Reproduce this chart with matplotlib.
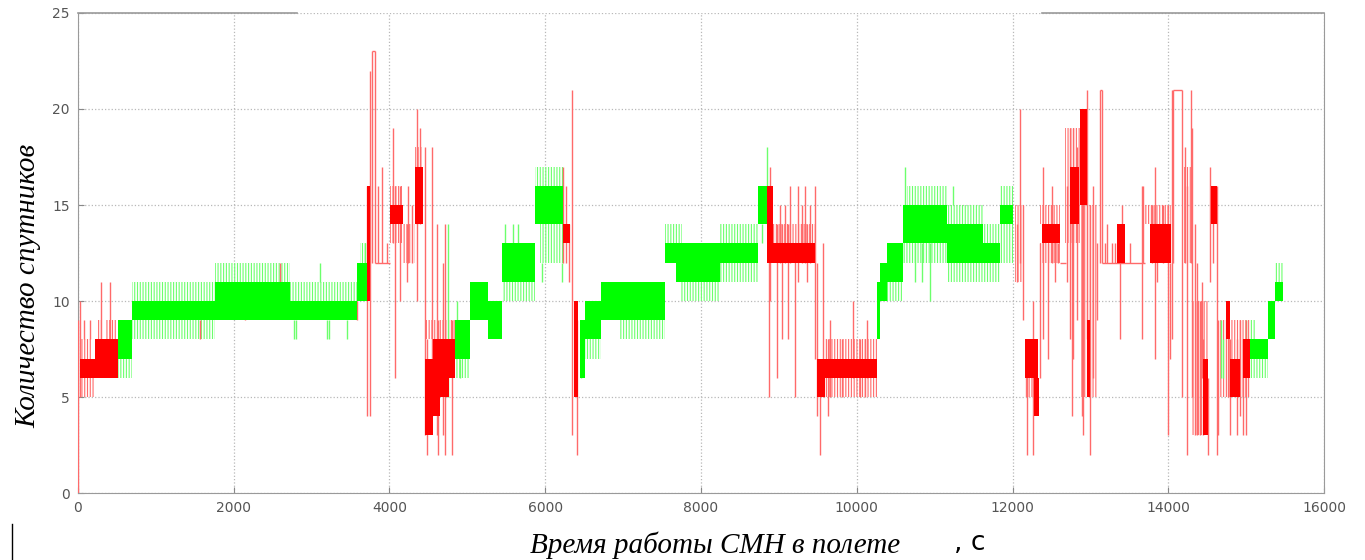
import matplotlib
matplotlib.use("Agg")
import matplotlib.pyplot as plt
from matplotlib.lines import Line2D

# satellite count traces
# dense (solid) bands: (t_start, t_end, low, high)
green_core = [(518, 690, 7, 9), (690, 1760, 9, 10), (1760, 2720, 9, 11), (2720, 3580, 9, 10),
              (3580, 3707, 10, 12), (4840, 5033, 7, 9), (5033, 5268, 9, 11), (5268, 5440, 8, 10),
              (5440, 5868, 11, 13), (5868, 6231, 14, 16), (6441, 6505, 6, 9), (6505, 6719, 8, 10),
              (6719, 7537, 9, 11), (7537, 7680, 12, 13), (7680, 8243, 11, 13), (8243, 8735, 12, 13),
              (8735, 8842, 14, 16), (10255, 10300, 8, 11), (10300, 10384, 10, 12),
              (10384, 10598, 11, 13), (10598, 11155, 13, 15), (11155, 11625, 12, 14),
              (11625, 11840, 12, 13), (11840, 12009, 14, 15), (15047, 15283, 7, 8),
              (15283, 15369, 8, 10), (15369, 15476, 10, 11)]
# sparse (striped) bands
green_light = [(518, 690, 6, 7), (690, 1760, 8, 9), (690, 1760, 10, 11), (1760, 2720, 11, 12),
               (2720, 3580, 10, 11), (3620, 3700, 12, 13), (4840, 5033, 6, 7), (5440, 5868, 10, 11),
               (5868, 6231, 16, 17), (5930, 6231, 12, 14), (6505, 6719, 7, 8), (6950, 7537, 8, 9),
               (7537, 7750, 13, 14), (7740, 8243, 10, 11), (8243, 8735, 13, 14), (8243, 8735, 11, 12),
               (10384, 10598, 10, 11), (10598, 11155, 12, 13), (10650, 11155, 15, 16),
               (11155, 11625, 11, 12), (11155, 11625, 14, 15), (11625, 11840, 13, 14),
               (11625, 11840, 11, 12), (11840, 12009, 12, 14), (11840, 12009, 15, 16),
               (15047, 15283, 6, 7), (15047, 15130, 8, 9), (15369, 15476, 11, 12)]
# single spikes: (t, low, high)
green_spikes = [(2770, 8, 9), (2800, 8, 9), (3110, 11, 12), (3200, 8, 9), (3230, 8, 9), (3450, 8, 9),
                (3690, 12, 13), (4751, 5, 14), (4862, 9, 10), (4900, 6, 7), (5483, 13, 14),
                (5590, 13, 14), (5654, 13, 14), (5954, 11, 12), (6210, 11, 12), (6460, 6, 7),
                (8780, 13, 14), (8843, 16, 18), (10619, 15, 17), (10747, 11, 13), (10833, 11, 13),
                (10940, 10, 13), (11240, 15, 16), (14680, 6, 9), (14705, 6, 8), (15000, 7, 9)]

red_core = [(26, 218, 6, 7), (218, 518, 6, 8), (3707, 3750, 10, 16), (4006, 4177, 14, 15),
            (4327, 4434, 14, 17), (4455, 4560, 3, 7), (4560, 4650, 4, 8), (4650, 4760, 5, 8),
            (4760, 4840, 6, 8), (6231, 6317, 13, 14), (6370, 6420, 5, 10), (8842, 8928, 12, 16),
            (8928, 9463, 12, 13), (9485, 9592, 5, 7), (9592, 10255, 6, 7), (12160, 12332, 6, 8),
            (12280, 12340, 4, 6), (12380, 12610, 13, 14), (12740, 12850, 14, 17),
            (12870, 12960, 15, 20), (12960, 13000, 5, 9), (13338, 13445, 12, 14),
            (13760, 14030, 12, 14), (14440, 14512, 3, 7), (14550, 14620, 14, 16),
            (14740, 14790, 8, 10), (14790, 14920, 5, 7), (14960, 15047, 6, 8)]
red_light = [(26, 218, 5, 6), (40, 180, 7, 8), (240, 325, 8, 9), (365, 500, 8, 9),
             (4006, 4177, 13, 14), (4006, 4177, 15, 16), (4177, 4327, 12, 14), (4327, 4434, 17, 18),
             (4455, 4840, 8, 9), (8928, 9463, 13, 14), (9592, 10255, 5, 6), (9592, 10255, 7, 8),
             (12030, 12150, 11, 15), (12160, 12332, 5, 6), (12353, 12610, 12, 13),
             (12353, 12610, 14, 15), (12674, 12867, 13, 19), (12870, 13080, 5, 15),
             (13660, 14040, 14, 15), (14192, 14300, 12, 17), (14300, 14512, 3, 10),
             (14662, 15047, 5, 9)]
red_spikes = [(0, 0, 9), (30, 5, 10), (80, 8, 9), (150, 8, 9), (290, 8, 11), (415, 8, 11),
              (1570, 8, 9), (2150, 9, 10), (2594, 11, 12), (3585, 9, 10),
              (3715, 4, 16), (3745, 4, 22), (3770, 12, 23), (3810, 12, 23), (3848, 12, 16),
              (3899, 12, 17), (3963, 12, 13), (4040, 13, 19), (4070, 6, 16), (4134, 10, 16),
              (4220, 11, 14), (4241, 12, 16), (4284, 12, 15), (4348, 10, 18), (4357, 14, 20),
              (4391, 14, 19), (4455, 3, 18), (4477, 2, 8), (4541, 4, 18), (4605, 3, 14),
              (4627, 2, 9), (4690, 3, 12), (4712, 2, 14), (4798, 2, 9),
              (6232, 12, 17), (6270, 12, 16), (6300, 11, 14), (6339, 3, 21), (6403, 2, 9),
              (8873, 5, 16), (8885, 10, 17), (8971, 6, 14), (9014, 12, 15), (9035, 8, 14),
              (9078, 12, 15), (9120, 8, 14), (9142, 12, 16), (9206, 5, 13), (9249, 11, 16),
              (9292, 12, 15), (9334, 12, 16), (9356, 11, 14), (9399, 12, 15), (9463, 7, 16),
              (9485, 4, 12), (9528, 2, 7), (9570, 5, 13), (9635, 4, 8), (9656, 5, 9),
              (9806, 5, 8), (9956, 6, 10), (10041, 5, 8), (10105, 5, 8), (10127, 6, 9),
              (12052, 11, 14), (12095, 12, 20), (12138, 9, 15), (12181, 2, 8), (12266, 2, 10),
              (12352, 6, 13), (12395, 8, 17), (12459, 7, 13), (12502, 12, 16), (12545, 11, 14),
              (12588, 12, 13), (12695, 11, 16), (12738, 8, 19), (12759, 4, 16), (12781, 7, 19),
              (12824, 9, 18), (12888, 4, 20), (12909, 3, 20), (12952, 8, 21), (12995, 2, 15),
              (13038, 6, 16), (13081, 9, 13), (13124, 12, 21), (13145, 12, 21), (13188, 12, 13),
              (13210, 12, 14), (13274, 12, 13), (13317, 12, 13), (13381, 8, 13), (13402, 12, 15),
              (13509, 12, 13), (13659, 8, 16), (13680, 12, 16), (13787, 12, 15),
              (13829, 7, 17), (13850, 11, 14), (13935, 12, 15), (14000, 3, 15), (14021, 7, 12),
              (14042, 8, 21), (14064, 12, 21), (14171, 5, 21), (14213, 12, 18), (14235, 2, 16),
              (14286, 12, 21), (14299, 5, 19), (14341, 3, 14), (14363, 3, 12), (14406, 3, 10),
              (14427, 6, 11), (14448, 3, 8), (14512, 2, 6), (14534, 11, 17), (14577, 12, 16),
              (14620, 2, 16), (14641, 3, 9), (14769, 5, 10), (14790, 3, 8), (14876, 3, 8),
              (14919, 4, 9), (14961, 3, 8), (15004, 3, 9)]
# flat runs of the sparse red trace: (t_start, t_end, value)
red_flats = [(3770, 3810, 23), (3813, 4006, 12), (12610, 12690, 12), (13124, 13145, 21),
             (13145, 13700, 12), (14064, 14171, 21)]

x_ticks = [0, 2000, 4000, 6000, 8000, 10000, 12000, 14000, 16000]
y_ticks = [0, 5, 10, 15, 20, 25]

GREEN, GREEN_L = '#00ff00', '#6cff6c'
RED, RED_L = '#ff0000', '#ff6a6a'

plt.rcParams['hatch.linewidth'] = 0.8

fig = plt.figure(figsize=(13.65, 5.6), dpi=100)
ax = fig.add_axes([0.0571, 0.1196, 0.9129, 0.8572])


def draw_trace(core, light, spikes, col, col_l):
    for t0, t1, lo, hi in light:
        ax.bar(t0, hi - lo, width=t1 - t0, bottom=lo, align='edge', facecolor='none',
               edgecolor=col_l, hatch='||||||', linewidth=0, zorder=2)
    ax.vlines([s[0] for s in spikes], [s[1] for s in spikes], [s[2] for s in spikes],
              colors=col_l, linewidth=1.0, zorder=3)
    for t0, t1, lo, hi in core:
        ax.bar(t0, hi - lo, width=t1 - t0, bottom=lo, align='edge', color=col,
               linewidth=0, zorder=4)


draw_trace(green_core, green_light, green_spikes, GREEN, GREEN_L)
draw_trace(red_core, red_light, red_spikes, RED, RED_L)
ax.hlines([f[2] for f in red_flats], [f[0] for f in red_flats], [f[1] for f in red_flats],
          colors=RED_L, linewidth=1.0, zorder=3)

ax.set_xlim(0, 16000)
ax.set_ylim(0, 25)
ax.set_xticks(x_ticks)
ax.set_yticks(y_ticks)
ax.grid(True, color='#b8b8b8', linestyle=':', linewidth=0.9)
ax.set_axisbelow(True)
ax.tick_params(direction='in', length=4, colors='#888888', labelcolor='#555555',
               labelsize=10, pad=6)
for s in ['left', 'bottom', 'right']:
    ax.spines[s].set_color('#9a9a9a')
ax.spines['top'].set_visible(False)
# the top border is only partly drawn in the original
ax.axhline(25, xmin=0, xmax=0.176, color='#9a9a9a', linewidth=1.2, clip_on=False)
ax.axhline(25, xmin=0.774, xmax=1, color='#9a9a9a', linewidth=1.2, clip_on=False)

serif = ['Liberation Serif', 'DejaVu Serif']
fig.text(0.021, 0.49, 'Количество спутников', rotation=90, fontsize=21, style='italic',
         family=serif, ha='center', va='center')
fig.text(0.388, 0.027, 'Время работы СМН в полете', fontsize=21, style='italic',
         family=serif, ha='left', va='center')
fig.text(0.699, 0.03, ', с', fontsize=19, family=['DejaVu Sans'], ha='left', va='center')
fig.add_artist(Line2D([0.009, 0.009], [0.0, 0.065], color='black', linewidth=1))

fig.savefig('out.png', dpi=100)
